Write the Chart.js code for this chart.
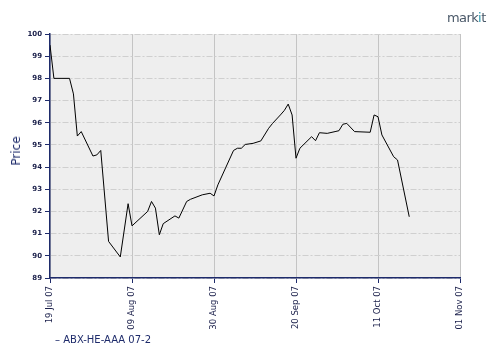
<!DOCTYPE html>
<html>
<head>
<meta charset="utf-8">
<script src="https://cdn.jsdelivr.net/npm/chart.js@4/dist/chart.umd.min.js"></script>
<style>
  html, body { margin: 0; padding: 0; background: #ffffff; }
  #wrap { position: relative; width: 500px; height: 360px; }
  #c { position: absolute; left: 0; top: 0; }
  #ytitle { position: absolute; left: 16px; top: 151px; transform: translate(-50%, -50%) rotate(-90deg);
            font: 12px "DejaVu Sans", sans-serif; color: #1e2b6b; white-space: nowrap; }
  #legend { position: absolute; left: 55px; top: 334px; font: 10px "DejaVu Sans", sans-serif; color: #1e2b6b; white-space: nowrap; }
  #logo { position: absolute; left: 447px; top: 10px; font: 13px "DejaVu Sans", sans-serif; color: #4a5868; letter-spacing: -0.6px; }
  #logo span { color: #2a9ab0; }
</style>
</head>
<body>
<div id="wrap">
  <canvas id="c" width="500" height="360"></canvas>
  <div id="ytitle">Price</div>
  <div id="legend">– ABX-HE-AAA 07-2</div>
  <div id="logo">mark<span>i</span>t</div>
</div>
<script>
const dates = ['2007-07-19','2007-07-20','2007-07-24','2007-07-25','2007-07-26','2007-07-27','2007-07-30','2007-07-31',
  '2007-08-01','2007-08-03','2007-08-06','2007-08-08','2007-08-09','2007-08-13','2007-08-14','2007-08-15','2007-08-16',
  '2007-08-17','2007-08-20','2007-08-21','2007-08-23','2007-08-24','2007-08-27','2007-08-29','2007-08-30','2007-08-31',
  '2007-09-04','2007-09-05','2007-09-06','2007-09-07','2007-09-09','2007-09-11','2007-09-13','2007-09-14','2007-09-16',
  '2007-09-17','2007-09-18','2007-09-19','2007-09-20','2007-09-21','2007-09-24','2007-09-25','2007-09-26','2007-09-28',
  '2007-09-30','2007-10-01','2007-10-02','2007-10-03','2007-10-05','2007-10-09','2007-10-10','2007-10-11','2007-10-12',
  '2007-10-15','2007-10-16','2007-10-19'];
const prices = [99.5,98.0,98.0,97.3,95.4,95.6,94.5,94.55,
  94.75,90.65,89.95,92.35,91.35,92.0,92.45,92.15,90.95,
  91.45,91.8,91.7,92.45,92.55,92.75,92.82,92.7,93.2,
  94.75,94.85,94.85,95.02,95.07,95.18,95.75,95.97,96.35,
  96.55,96.84,96.35,94.4,94.85,95.37,95.19,95.55,95.52,
  95.6,95.64,95.93,95.97,95.6,95.57,96.35,96.27,95.45,
  94.47,94.32,91.76];
const xTickLabels = ['19 Jul 07','09 Aug 07','30 Aug 07','20 Sep 07','11 Oct 07','01 Nov 07'];
const yMin = 89, yMax = 100;
const seriesName = 'ABX-HE-AAA 07-2';

const DAY = 86400000;
const t0 = Date.UTC(2007, 6, 19);
const toDay = s => (Date.parse(s + 'T00:00:00Z') - t0) / DAY;
const points = dates.map((d, i) => ({ x: toDay(d), y: prices[i] }));

const plotBg = {
  id: 'plotBg',
  beforeDraw(chart) {
    const { ctx, chartArea: a } = chart;
    ctx.save();
    ctx.fillStyle = '#eeeeee';
    ctx.fillRect(a.left, a.top, a.right - a.left, a.bottom - a.top);
    ctx.restore();
  }
};

new Chart(document.getElementById('c'), {
  type: 'line',
  data: { datasets: [{ label: seriesName, data: points, borderColor: '#000000', borderWidth: 1,
    pointRadius: 0, tension: 0, fill: false }] },
  plugins: [plotBg],
  options: {
    responsive: false, animation: false, devicePixelRatio: 1,
    layout: { padding: { left: 0, top: 34, right: 40, bottom: 0 } },
    plugins: { legend: { display: false }, tooltip: { enabled: false } },
    scales: {
      x: {
        type: 'linear', min: 0, max: 105,
        afterBuildTicks(scale) { scale.ticks = xTickLabels.map((l, i) => ({ value: i * 21 })); },
        afterFit(scale) { scale.height = 82; },
        ticks: {
          autoSkip: false, maxRotation: 90, minRotation: 90, padding: 3,
          color: '#1a1f4a', font: { family: 'DejaVu Sans', size: 8.5 },
          callback: (v) => xTickLabels[Math.round(v / 21)]
        },
        grid: { color: '#c4c4c4', lineWidth: 1, drawTicks: true, tickLength: 5, tickColor: '#1e2b6b' },
        border: { color: '#1e2b6b', width: 1.5 }
      },
      y: {
        min: yMin, max: yMax,
        afterFit(scale) { scale.width = 50; },
        ticks: { stepSize: 1, padding: 3, color: '#1a1f4a', font: { family: 'DejaVu Sans', size: 7, weight: 'bold' } },
        grid: { color: '#cfcfcf', lineWidth: 1, tickLength: 5, tickColor: '#1e2b6b', tickBorderDash: [] },
        border: { color: '#1e2b6b', width: 1.5, dash: [6, 2, 2, 2] }
      }
    }
  }
});
</script>
</body>
</html>
